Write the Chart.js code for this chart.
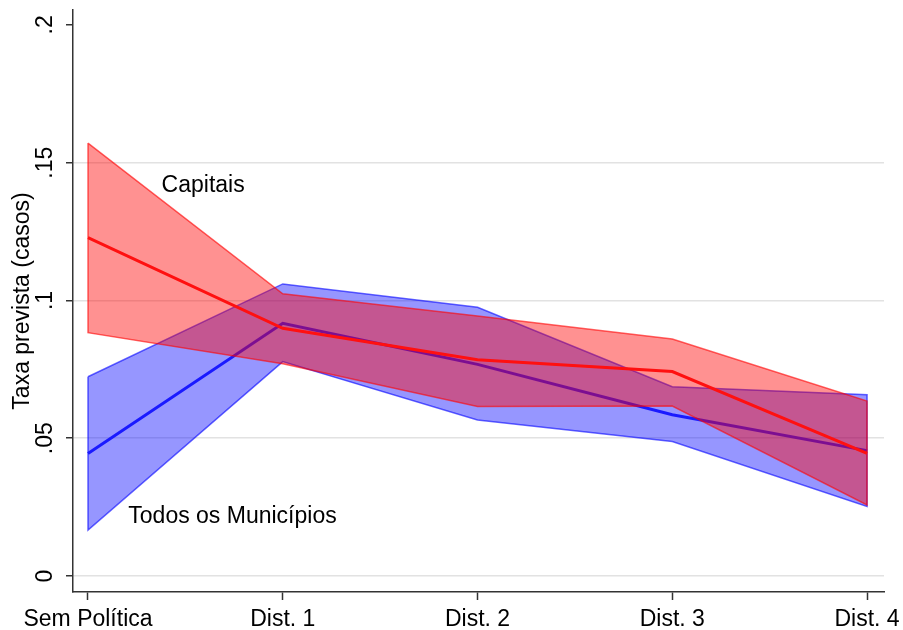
<!DOCTYPE html>
<html lang="pt">
<head>
<meta charset="UTF-8">
<title>Taxa prevista</title>
<script src="https://cdn.jsdelivr.net/npm/chart.js"></script>
<style>
  body { margin: 0; background: #fff; }
  canvas { display: block; }
</style>
</head>
<body>
<canvas id="chart" width="903" height="630"></canvas>
<script>
  // categorias e ticks
  const categories = ['Sem Política', 'Dist. 1', 'Dist. 2', 'Dist. 3', 'Dist. 4'];
  const yTicks = [0, 0.05, 0.1, 0.15, 0.2];
  const yTickLabels = ['0', '.05', '.1', '.15', '.2'];

  // Capitais (vermelho)
  const capMean  = [0.1228, 0.0899, 0.0785, 0.0742, 0.0445];
  const capUpper = [0.1571, 0.1024, 0.0944, 0.0860, 0.0635];
  const capLower = [0.0883, 0.0770, 0.0615, 0.0617, 0.0258];

  // Todos os Municípios (azul)
  const allMean  = [0.0445, 0.0917, 0.0768, 0.0585, 0.0455];
  const allUpper = [0.0723, 0.1060, 0.0975, 0.0687, 0.0658];
  const allLower = [0.0167, 0.0778, 0.0566, 0.0488, 0.0252];

  const FONT = "'Liberation Sans', Arial, sans-serif";
  const INK = '#333333';

  function linePoints(vals) {
    return vals.map((v, i) => ({ x: i, y: v }));
  }

  // polígono fechado: superior ida, inferior volta
  function bandPoints(upper, lower) {
    const pts = linePoints(upper);
    for (let i = lower.length - 1; i >= 0; i--) pts.push({ x: i, y: lower[i] });
    pts.push({ x: 0, y: upper[0] });
    return pts;
  }

  const labelsPlugin = {
    id: 'labels',
    afterDatasetsDraw(chart) {
      const { ctx, scales: { x, y } } = chart;
      ctx.save();
      ctx.fillStyle = '#000';
      ctx.font = '23px ' + FONT;
      ctx.textAlign = 'left';
      ctx.textBaseline = 'middle';
      ctx.fillText('Capitais', x.getPixelForValue(0.378), y.getPixelForValue(0.1416));
      ctx.fillText('Todos os Municípios', x.getPixelForValue(0.207), y.getPixelForValue(0.0215));
      ctx.restore();
    },
    afterDraw(chart) {
      // rótulos do eixo y girados como no Stata
      const { ctx, scales: { y } } = chart;
      ctx.save();
      ctx.fillStyle = '#000';
      ctx.font = '23px ' + FONT;
      ctx.textAlign = 'center';
      ctx.textBaseline = 'middle';
      yTicks.forEach((v, i) => {
        ctx.save();
        ctx.translate(y.right - 27, y.getPixelForValue(v));
        ctx.rotate(-Math.PI / 2);
        ctx.fillText(yTickLabels[i], 0, 0);
        ctx.restore();
      });
      ctx.restore();
    }
  };

  new Chart(document.getElementById('chart'), {
    type: 'line',
    data: {
      datasets: [
        {
          label: 'Todos banda',
          data: bandPoints(allUpper, allLower),
          fill: 'shape',
          backgroundColor: 'rgba(0, 0, 255, 0.41)',
          borderColor: 'rgba(0, 0, 255, 0.6)',
          borderWidth: 1.5,
          pointRadius: 0,
          tension: 0,
          order: 4
        },
        {
          label: 'Todos os Municípios',
          data: linePoints(allMean),
          borderColor: '#1a1aff',
          borderWidth: 3,
          pointRadius: 0,
          fill: false,
          order: 3
        },
        {
          label: 'Capitais banda',
          data: bandPoints(capUpper, capLower),
          fill: 'shape',
          backgroundColor: 'rgba(255, 0, 0, 0.43)',
          borderColor: 'rgba(255, 0, 0, 0.6)',
          borderWidth: 1.5,
          pointRadius: 0,
          tension: 0,
          order: 2
        },
        {
          label: 'Capitais',
          data: linePoints(capMean),
          borderColor: '#ff1010',
          borderWidth: 3,
          pointRadius: 0,
          fill: false,
          order: 1
        }
      ]
    },
    options: {
      responsive: false,
      animation: false,
      layout: { padding: { left: 0, right: 19, top: 10, bottom: 0 } },
      plugins: {
        legend: { display: false },
        tooltip: { enabled: false }
      },
      scales: {
        x: {
          type: 'linear',
          min: -0.077,
          max: 4.087,
          afterBuildTicks(scale) {
            scale.ticks = categories.map((c, i) => ({ value: i }));
          },
          afterFit(scale) {
            scale.height = 38;
            scale.paddingLeft = 0;
            scale.paddingRight = 0;
          },
          ticks: {
            autoSkip: false,
            maxRotation: 0,
            color: '#000',
            font: { family: FONT, size: 23 },
            padding: 6,
            callback: (v) => categories[v]
          },
          grid: {
            drawOnChartArea: false,
            tickLength: 8,
            tickColor: INK,
            tickWidth: 1.5
          },
          border: { color: INK, width: 1.5 }
        },
        y: {
          min: -0.0058,
          max: 0.2054,
          afterBuildTicks(scale) {
            scale.ticks = yTicks.map(v => ({ value: v }));
          },
          afterFit(scale) { scale.width = 73; },
          ticks: { display: false },
          title: {
            display: true,
            text: 'Taxa prevista (casos)',
            color: '#000',
            font: { family: FONT, size: 23 },
            padding: { top: 9, bottom: 0 }
          },
          grid: {
            color: (c) => (c.tick && c.tick.value === 0.2 ? 'rgba(0,0,0,0)' : '#e2e2e2'),
            lineWidth: 1.5,
            tickLength: 7,
            tickColor: INK,
            tickWidth: 1.5
          },
          border: { color: INK, width: 1.5 }
        }
      }
    },
    plugins: [labelsPlugin]
  });
</script>
</body>
</html>
